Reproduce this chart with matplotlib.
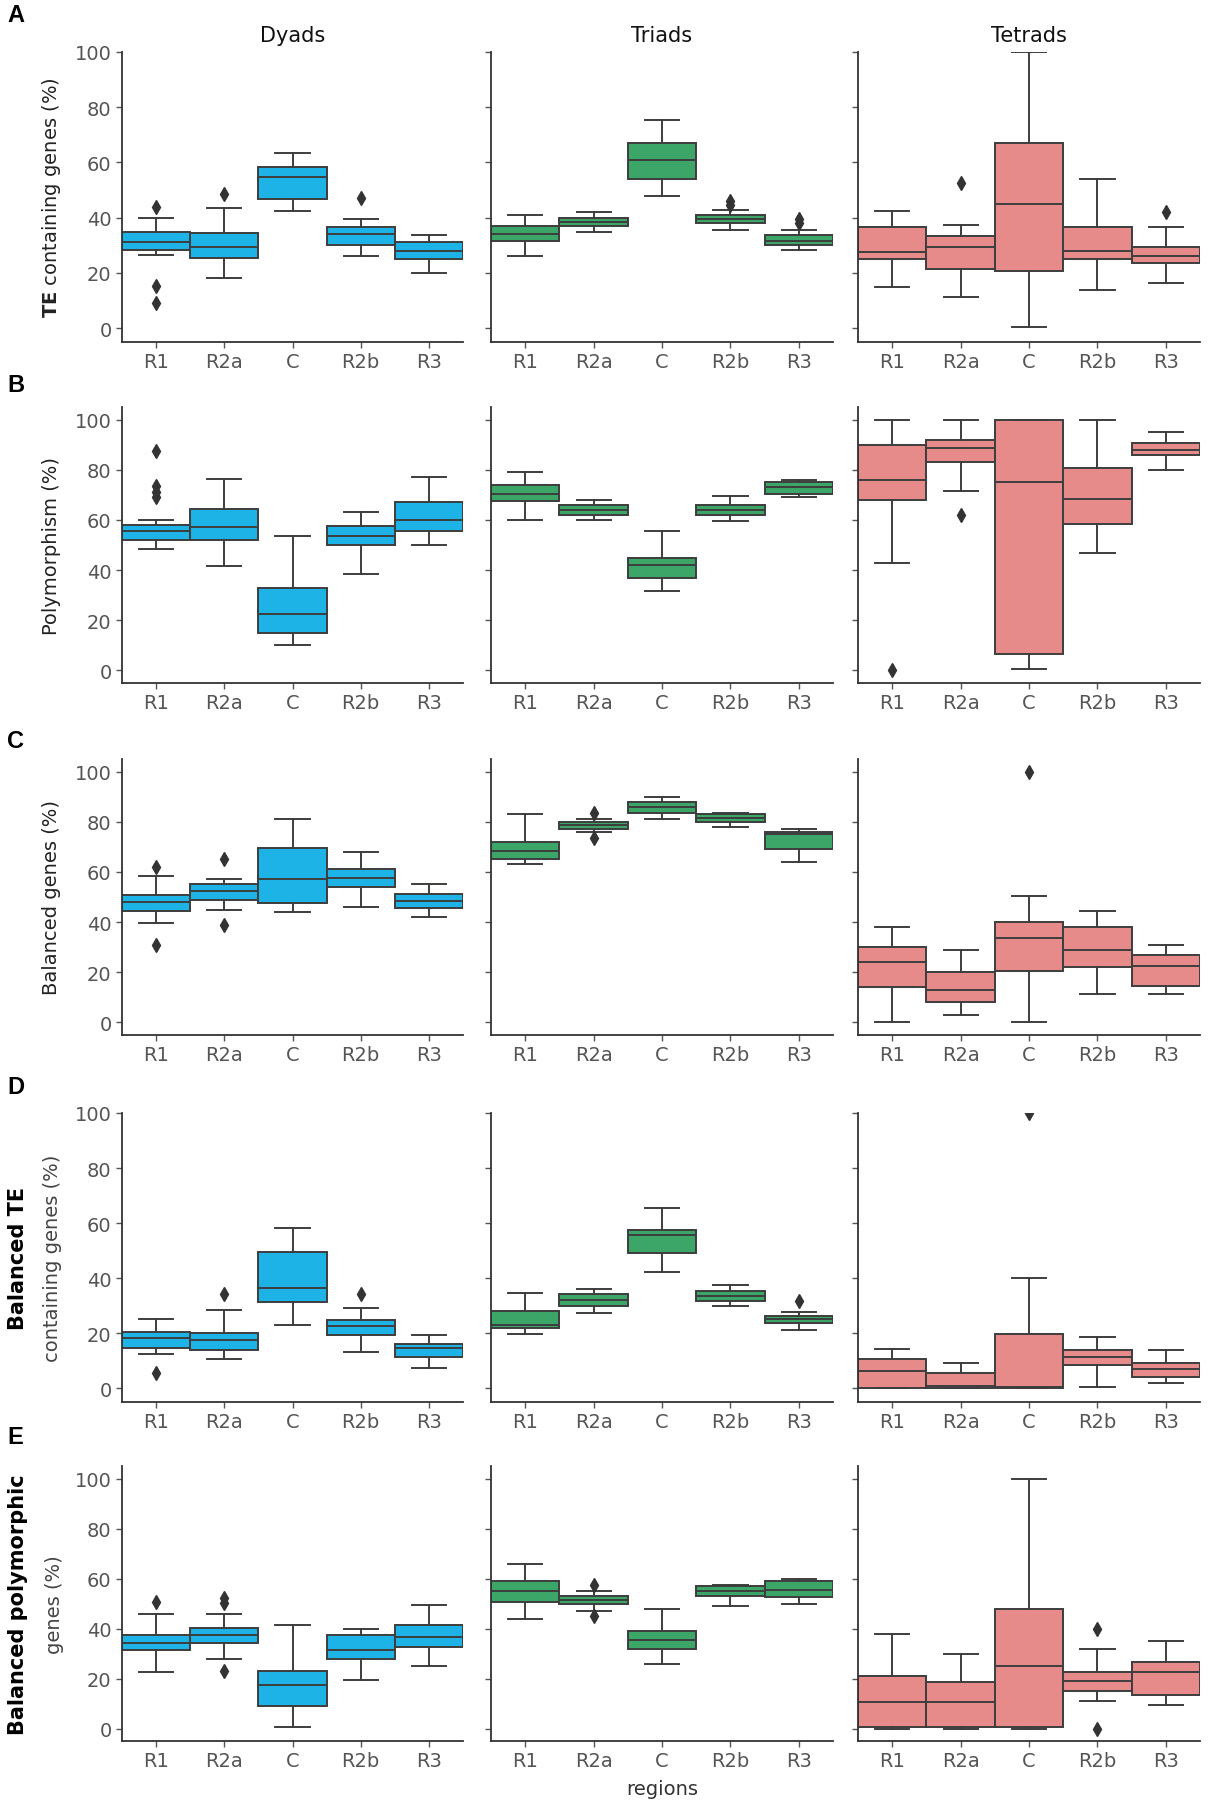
#!/usr/bin/env python3
# -*- coding: utf-8 -*-
"""
Boxplots por regiao (R1, R2a, C, R2b, R3) para diades, triades e tetrades.
Cada linha [lo, q1, mediana, q3, hi] e lida do grafico original.
"""
import matplotlib
matplotlib.use("Agg")
import matplotlib.pyplot as plt

REGIOES = ["R1", "R2a", "C", "R2b", "R3"]
GRUPOS = ["Dyads", "Triads", "Tetrads"]

# ---------------------------------------------------------------------------
# A) TE containing genes
# ---------------------------------------------------------------------------
TE_DYADS = [[26.6, 28.4, 31.2, 34.8, 40.0], [18.2, 25.4, 29.4, 34.6, 43.4],
            [42.4, 46.7, 54.8, 58.2, 63.4], [26.1, 30.2, 34.1, 36.7, 39.5],
            [20.0, 25.0, 28.0, 31.2, 33.7]]
TE_DYADS_OUT = [[43.8, 15.4, 9.2], [48.5], [], [47.0], []]
TE_TRIADS = [[26, 31.5, 34, 37, 41], [35, 37, 38.5, 40, 42],
             [48, 54, 61, 67, 75.5], [35.6, 38.1, 39.5, 41, 42.8],
             [28.4, 30, 31.5, 33.7, 35.6]]
TE_TRIADS_OUT = [[], [], [], [44.5, 46], [38, 39.5]]
TE_TETRADS = [[14.9, 25.1, 27.6, 36.7, 42.4], [11.4, 21.5, 29.4, 33.3, 37.4],
              [0.5, 20.8, 45.1, 66.9, 100], [14, 25, 28, 36.5, 54],
              [16.5, 23.5, 26, 29.5, 36.5]]
TE_TETRADS_OUT = [[], [52.4], [], [], [42]]

# ---------------------------------------------------------------------------
# B) Polymorphism
# ---------------------------------------------------------------------------
POLY_DYADS = [[48.4, 52, 55.7, 57.9, 60], [41.7, 52, 57.1, 64.3, 76.2],
              [10, 15, 22.5, 33, 53.5], [38.5, 50, 53.5, 57.5, 63],
              [50, 55.5, 60, 67, 77]]
POLY_DYADS_OUT = [[87.4, 73.5, 71, 69], [], [], [], []]
POLY_TRIADS = [[60, 67.5, 70.5, 74, 79], [60, 62, 64, 66, 68],
               [31.5, 37, 42, 45, 55.5], [59.5, 62, 64, 66, 69.5],
               [69, 70.5, 73, 75, 76]]
POLY_TRIADS_OUT = [[], [], [], [], []]
POLY_TETRADS = [[43, 68, 76, 90, 100], [71.5, 83, 88.5, 92, 100],
                [0.5, 6.5, 75, 100, 100], [47, 58.5, 68.5, 80.5, 100],
                [80, 86, 88, 90.5, 95]]
POLY_TETRADS_OUT = [[0], [62], [], [], []]

# ---------------------------------------------------------------------------
# C) Balanced genes
# ---------------------------------------------------------------------------
BAL_DYADS = [[39.6, 44.5, 48.2, 50.7, 58.2], [44.7, 48.7, 52.5, 55.1, 57.1],
             [44, 47.5, 57, 69.5, 81], [46, 54, 57.5, 61, 68],
             [42, 45.5, 48.5, 51, 55]]
BAL_DYADS_OUT = [[62, 30.8], [65.3, 38.8], [], [], []]
BAL_TRIADS = [[63, 65, 68.5, 72, 83], [76, 77, 78.5, 80, 81],
              [81, 83.5, 86, 88, 90], [78, 80, 81.5, 83, 83.5],
              [64, 69, 75, 76, 77]]
BAL_TRIADS_OUT = [[], [83.5, 73.5], [], [], []]
BAL_TETRADS = [[0, 14, 24, 30, 38], [3, 8, 13, 20, 29],
               [0, 20.5, 33.5, 40, 50.5], [11.5, 22, 29, 38, 44.5],
               [11.5, 14.5, 22.5, 27, 31]]
BAL_TETRADS_OUT = [[], [], [100], [], []]

# ---------------------------------------------------------------------------
# D) Balanced TE containing genes
# ---------------------------------------------------------------------------
BTE_DYADS = [[12.4, 14.8, 18.4, 20.5, 25.1], [10.5, 13.9, 17.4, 19.9, 28.5],
             [22.8, 31.4, 36.6, 49.5, 58.2], [13.2, 19.3, 22.5, 24.7, 29.1],
             [7.2, 11.5, 14.5, 16, 19.3]]
BTE_DYADS_OUT = [[5.7], [34.2], [], [34.2], []]
BTE_TRIADS = [[19.8, 21.8, 23, 27.9, 34.5], [27.3, 29.9, 32, 34.2, 36],
              [42.1, 49, 55.5, 57.5, 65.5], [29.9, 31.7, 33.5, 35.4, 37.5],
              [21.2, 23.7, 25, 26.2, 27.6]]
BTE_TRIADS_OUT = [[], [], [], [], [31.7]]
BTE_TETRADS = [[0, 0.2, 6.1, 10.5, 14.4], [0, 0.2, 0.8, 5.5, 9],
               [0, 0.2, 0.5, 19.6, 40], [0.5, 8.5, 11.5, 14, 18.5],
               [2, 4, 7, 9, 14]]
BTE_TETRADS_OUT = [[], [], [100], [], []]

# ---------------------------------------------------------------------------
# E) Balanced polymorphic genes
# ---------------------------------------------------------------------------
BPOLY_DYADS = [[22.6, 31.5, 34.4, 37.4, 46], [27.8, 34.1, 37.4, 40.3, 46],
               [0.5, 9, 17.5, 23, 41.5], [19.5, 28, 31.5, 37.5, 40],
               [25, 32.5, 36.5, 41.5, 49.5]]
BPOLY_DYADS_OUT = [[50.7], [52.2, 50.4, 22.9], [], [], []]
BPOLY_TRIADS = [[44, 50.5, 55, 59, 66], [47, 50, 51.5, 53, 55],
                [26, 32, 35.5, 39, 48], [49, 53, 55, 57, 57.5],
                [50, 52.5, 55.5, 59, 60]]
BPOLY_TRIADS_OUT = [[], [57.5, 45], [], [], []]
BPOLY_TETRADS = [[0, 0.5, 10.5, 21, 38], [0, 0.5, 10.5, 18.5, 30],
                 [0, 0.5, 25, 48, 100], [11, 15, 19, 22.5, 32],
                 [9.5, 13.5, 22.5, 26.5, 35]]
BPOLY_TETRADS_OUT = [[], [], [], [40, 0], []]

LINHAS = [
    ("A", (TE_DYADS, TE_TRIADS, TE_TETRADS),
     (TE_DYADS_OUT, TE_TRIADS_OUT, TE_TETRADS_OUT), 100),
    ("B", (POLY_DYADS, POLY_TRIADS, POLY_TETRADS),
     (POLY_DYADS_OUT, POLY_TRIADS_OUT, POLY_TETRADS_OUT), 105),
    ("C", (BAL_DYADS, BAL_TRIADS, BAL_TETRADS),
     (BAL_DYADS_OUT, BAL_TRIADS_OUT, BAL_TETRADS_OUT), 105),
    ("D", (BTE_DYADS, BTE_TRIADS, BTE_TETRADS),
     (BTE_DYADS_OUT, BTE_TRIADS_OUT, BTE_TETRADS_OUT), 100),
    ("E", (BPOLY_DYADS, BPOLY_TRIADS, BPOLY_TETRADS),
     (BPOLY_DYADS_OUT, BPOLY_TRIADS_OUT, BPOLY_TETRADS_OUT), 105),
]

CORES = ["#1db3e6", "#3ca668", "#e68a8a"]
BORDA = "#3d3d3d"
CINZA = "#555555"

# posicoes em pixels (figura 1208 x 1806)
W, H = 1208, 1806
COLS_PX = [(122, 463), (491, 833), (858, 1200)]
ROWS_PX = [(53, 343), (408, 684), (760, 1036), (1114, 1403), (1467, 1742)]
LETRA_Y = [15, 386, 742, 1088, 1438]


def stats_caixa(linhas, outliers):
    out = []
    for (lo, q1, med, q3, hi), fl in zip(linhas, outliers):
        out.append({"whislo": lo, "q1": q1, "med": med, "q3": q3,
                    "whishi": hi, "fliers": fl})
    return out


fig = plt.figure(figsize=(W / 100, H / 100), dpi=100)
plt.rcParams["font.family"] = ["DejaVu Sans"]

for r, (letra, dados, outs, topo) in enumerate(LINHAS):
    yt, yb = ROWS_PX[r]
    for c in range(3):
        xl, xr = COLS_PX[c]
        ax = fig.add_axes([xl / W, 1 - yb / H, (xr - xl) / W, (yb - yt) / H])
        ax.bxp(stats_caixa(dados[c], outs[c]), positions=range(5),
               widths=1.0, patch_artist=True, showfliers=True,
               boxprops=dict(facecolor=CORES[c], edgecolor=BORDA, lw=1.4),
               medianprops=dict(color=BORDA, lw=1.4),
               whiskerprops=dict(color=BORDA, lw=1.4),
               capprops=dict(color=BORDA, lw=1.4),
               flierprops=dict(marker="d", markerfacecolor="#333333",
                               markeredgecolor="#333333", markersize=7))
        ax.set_xlim(-0.5, 4.5)
        ax.set_ylim(-5, topo)
        ax.set_yticks([0, 20, 40, 60, 80, 100])
        ax.set_xticks(range(5))
        ax.set_xticklabels(REGIOES)
        for s in ("top", "right"):
            ax.spines[s].set_visible(False)
        for s in ("left", "bottom"):
            ax.spines[s].set_color("#333333")
            ax.spines[s].set_linewidth(1.3)
        ax.tick_params(labelsize=14, colors=CINZA, length=4, width=1)
        if c > 0:
            ax.tick_params(axis="y", labelleft=False)
        if r == 0:
            ax.set_title(GRUPOS[c], fontsize=15, color="#111111", pad=8)
        if r == 4 and c == 1:
            ax.set_xlabel("regions", fontsize=14, color="#333333", labelpad=6)

    # letra do painel
    fig.text(7 / W, 1 - LETRA_Y[r] / H, letra, fontsize=17, fontweight="bold",
             family="Liberation Sans", ha="left", va="center")

# rotulos do eixo y
ymeio = [1 - (a + b) / 2 / H for a, b in ROWS_PX]
fig.text(52 / W, ymeio[0], r"$\mathbf{TE}$ containing genes (%)", rotation=90,
         fontsize=14, color="#222222", ha="center", va="center")
fig.text(52 / W, ymeio[1], "Polymorphism (%)", rotation=90,
         fontsize=14, color="#222222", ha="center", va="center")
fig.text(52 / W, ymeio[2], "Balanced genes (%)", rotation=90,
         fontsize=14, color="#222222", ha="center", va="center")
fig.text(18 / W, ymeio[3], "Balanced TE", rotation=90, fontsize=15,
         fontweight="bold", ha="center", va="center")
fig.text(53 / W, ymeio[3], "containing genes (%)", rotation=90,
         fontsize=14, color="#444444", ha="center", va="center")
fig.text(18 / W, ymeio[4], "Balanced polymorphic", rotation=90, fontsize=15,
         fontweight="bold", ha="center", va="center")
fig.text(54 / W, ymeio[4], "genes (%)", rotation=90,
         fontsize=14, color="#444444", ha="center", va="center")

fig.savefig("out.png", dpi=100)
